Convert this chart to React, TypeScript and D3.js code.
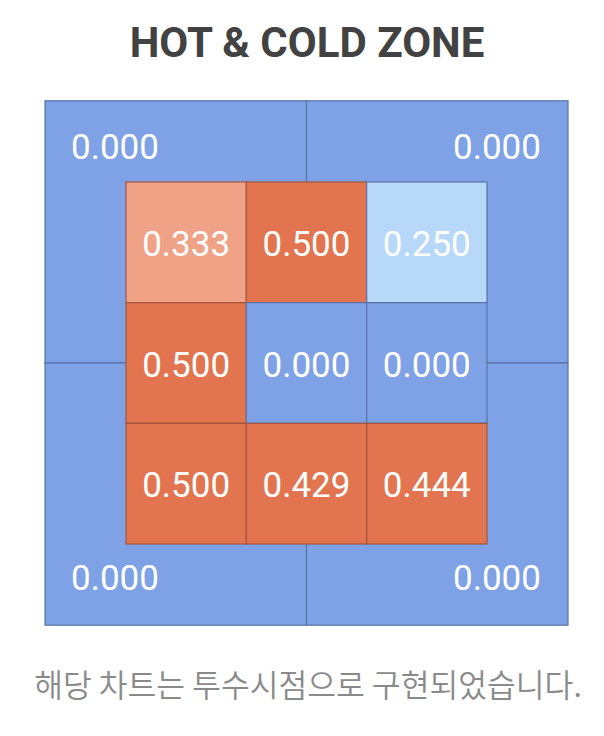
import React from "react";
import * as d3 from "d3";

const title = "HOT & COLD ZONE";
const footnote = "해당 차트는 투수시점으로 구현되었습니다.";
const zoneCols = ["left", "middle", "right"];
const zoneRows = ["high", "middle", "low"];
const innerValues = [
  [0.333, 0.5, 0.25],
  [0.5, 0.0, 0.0],
  [0.5, 0.429, 0.444],
];
const outerQuadrants = ["topLeft", "topRight", "bottomLeft", "bottomRight"];
const outerValues = [0.0, 0.0, 0.0, 0.0];

const W = 604;
const H = 736;

export default function App() {
  const pad = 0.673;
  const x = d3.scaleLinear().domain([0, 3]).range([126, 487]);
  const y = d3.scaleLinear().domain([0, 3]).range([182, 544]);
  const color = d3
    .scaleThreshold<number, string>()
    .domain([0.2, 0.3, 0.4])
    .range(["#7ea2e5", "#b8d8fa", "#f0a287", "#e2754f"]);
  const stroke = (v: number) => (v >= 0.3 ? "#a2553c" : "#5a72a6");

  const ox0 = x(-pad), ox1 = x(3 + pad), oy0 = y(-pad), oy1 = y(3 + pad);
  const omx = x(1.5), omy = y(1.5);
  const quads = outerQuadrants.map((q, i) => {
    const left = i % 2 === 0;
    const top = i < 2;
    return {
      q,
      v: outerValues[i],
      x0: left ? ox0 : omx,
      x1: left ? omx : ox1,
      y0: top ? oy0 : omy,
      y1: top ? omy : oy1,
      tx: left ? ox0 + 26 : ox1 - 27,
      ty: top ? oy0 + 47 : oy1 - 47,
      anchor: left ? "start" : "end",
    };
  });

  const numFont = "Roboto, 'Noto Sans', sans-serif";
  const fmt = d3.format(".3f");

  return (
    <svg width={W} height={H} style={{ display: "block", position: "absolute", left: 0, top: 0 }}>
      <rect width={W} height={H} fill="#fff" />
      <text
        x={307}
        y={57}
        textAnchor="middle"
        fontFamily="Roboto, 'Noto Sans', sans-serif"
        fontWeight={700}
        fontSize={42}
        fill="#424242"
      >
        {title}
      </text>
      {quads.map((d) => (
        <g key={d.q}>
          <rect
            x={d.x0}
            y={d.y0}
            width={d.x1 - d.x0}
            height={d.y1 - d.y0}
            fill={color(d.v)}
            stroke={stroke(d.v)}
            strokeWidth={1.2}
          />
          <text
            x={d.tx}
            y={d.ty}
            textAnchor={d.anchor}
            dominantBaseline="central"
            fontFamily={numFont}
            fontWeight={400}
            fontSize={35}
            fill="#fff"
          >
            {fmt(d.v)}
          </text>
        </g>
      ))}
      {zoneRows.map((r, ri) =>
        zoneCols.map((c, ci) => {
          const v = innerValues[ri][ci];
          return (
            <g key={r + c}>
              <rect
                x={x(ci)}
                y={y(ri)}
                width={x(ci + 1) - x(ci)}
                height={y(ri + 1) - y(ri)}
                fill={color(v)}
                stroke={stroke(v)}
                strokeWidth={1.2}
              />
              <text
                x={x(ci + 0.5)}
                y={y(ri + 0.5) + 2}
                textAnchor="middle"
                dominantBaseline="central"
                fontFamily={numFont}
                fontWeight={400}
                fontSize={35}
                fill="#fff"
              >
                {fmt(v)}
              </text>
            </g>
          );
        })
      )}
      <text
        x={308}
        y={697}
        textAnchor="middle"
        fontFamily="'Noto Sans CJK KR', sans-serif"
        fontWeight={350}
        fontSize={31.3}
        fill="#8a8a8a"
      >
        {footnote}
      </text>
    </svg>
  );
}
